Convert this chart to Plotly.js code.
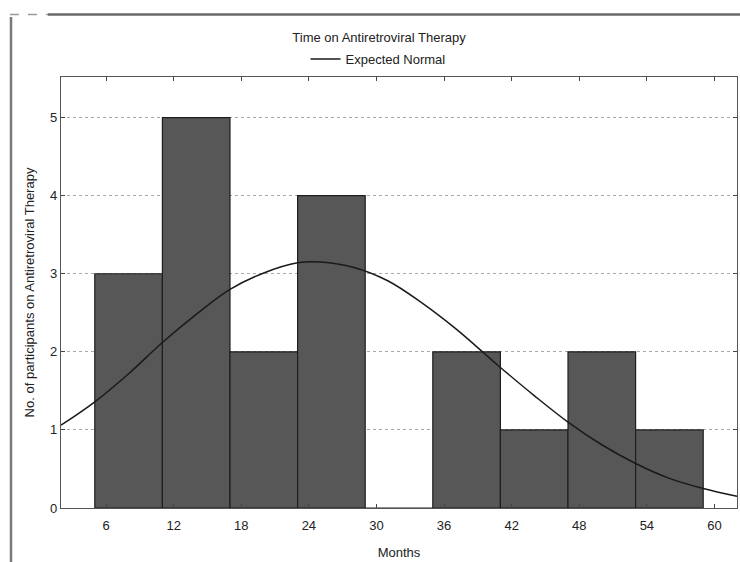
<!DOCTYPE html>
<html>
<head>
<meta charset="utf-8">
<script src="https://cdn.plot.ly/plotly-3.0.1.min.js"></script>
<style>
  html, body { margin: 0; padding: 0; background: #fff; }
  #chart { width: 740px; height: 562px; }
</style>
</head>
<body>
<div id="chart"></div>
<script>
// Histogram of months on therapy: bins 6 months wide, centred on these values
const binCenters = [8, 14, 20, 26, 32, 38, 44, 50, 56];
const counts = [3, 5, 2, 4, 0, 2, 1, 2, 1];
const binWidth = 6;

// Expected normal curve, sampled along the month axis
const curveMonths = [2, 5, 8, 11, 14, 17, 20, 23, 25, 28, 31, 34, 37, 41, 44, 47, 50, 53, 56, 59, 62];
const curveValues = [1.06, 1.36, 1.72, 2.12, 2.48, 2.80, 3.01, 3.14, 3.15, 3.08, 2.91, 2.63, 2.30, 1.80, 1.44, 1.10, 0.81, 0.57, 0.38, 0.25, 0.15];

const monthTicks = [6, 12, 18, 24, 30, 36, 42, 48, 54, 60];
const countTicks = [0, 1, 2, 3, 4, 5];

const FONT = 'Liberation Sans, Arial, sans-serif';
const INK = '#222';

const bars = {
  type: 'bar',
  x: binCenters,
  y: counts,
  width: binCenters.map(() => binWidth),
  marker: { color: '#575757', line: { color: '#1e1e1e', width: 1.2 } },
  showlegend: false,
  hoverinfo: 'x+y'
};

const normal = {
  type: 'scatter',
  mode: 'lines',
  x: curveMonths,
  y: curveValues,
  name: 'Expected Normal',
  line: { color: '#1a1a1a', width: 1.5, shape: 'spline', smoothing: 1 }
};

// outer frame: dashed stub, then solid rule across the top and down the left side
const L = 61, R = 737, T = 77, B = 508;
const px = v => (v - L) / (R - L);
const py = v => (B - v) / (B - T);

const layout = {
  width: 740,
  height: 562,
  margin: { l: L, r: 740 - R, t: T, b: 562 - B },
  paper_bgcolor: '#fff',
  plot_bgcolor: '#fff',
  font: { family: FONT, size: 12, color: INK },
  title: {
    text: 'Time on Antiretroviral Therapy',
    font: { family: FONT, size: 13, color: INK },
    xref: 'paper', x: px(379), xanchor: 'center',
    yref: 'container', y: 1 - 37 / 562, yanchor: 'middle'
  },
  showlegend: true,
  legend: {
    orientation: 'h',
    x: px(378), xanchor: 'center',
    y: py(59), yanchor: 'middle',
    font: { family: FONT, size: 13, color: INK },
    bgcolor: 'rgba(0,0,0,0)',
    itemwidth: 30
  },
  bargap: 0,
  xaxis: {
    range: [2, 62],
    tickvals: monthTicks,
    ticktext: monthTicks.map(String),
    ticks: 'inside', ticklen: 4, tickcolor: '#444',
    ticklabelstandoff: 5,
    showline: true, linecolor: '#555', linewidth: 1.2, mirror: 'ticks',
    showgrid: false, zeroline: false,
    tickfont: { family: FONT, size: 13, color: INK },
    title: { text: 'Months', font: { family: FONT, size: 13, color: INK }, standoff: 16 }
  },
  yaxis: {
    range: [0, 5.52],
    tickvals: countTicks,
    ticktext: countTicks.map(String),
    ticks: 'inside', ticklen: 4, tickcolor: '#444',
    showline: true, linecolor: '#555', linewidth: 1.2, mirror: 'ticks',
    showgrid: true, gridcolor: '#a8a8a8', griddash: 'dot', gridwidth: 1,
    zeroline: false,
    tickfont: { family: FONT, size: 13, color: INK },
    title: { text: 'No. of participants on Antiretroviral Therapy', font: { family: FONT, size: 13, color: INK }, standoff: 12 }
  },
  shapes: [
    { type: 'line', xref: 'paper', yref: 'paper', x0: px(48), x1: px(740), y0: py(14.5), y1: py(14.5),
      line: { color: '#6a6a6a', width: 2.5 } },
    { type: 'line', xref: 'paper', yref: 'paper', x0: px(10), x1: px(48), y0: py(14.5), y1: py(14.5),
      line: { color: '#9a9a9a', width: 1.5, dash: 'dash' } },
    { type: 'line', xref: 'paper', yref: 'paper', x0: px(11), x1: px(11), y0: py(17), y1: py(562),
      line: { color: '#7a7a7a', width: 2.5 } }
  ]
};

Plotly.newPlot('chart', [bars, normal], layout, { displayModeBar: false, staticPlot: true });
</script>
</body>
</html>
